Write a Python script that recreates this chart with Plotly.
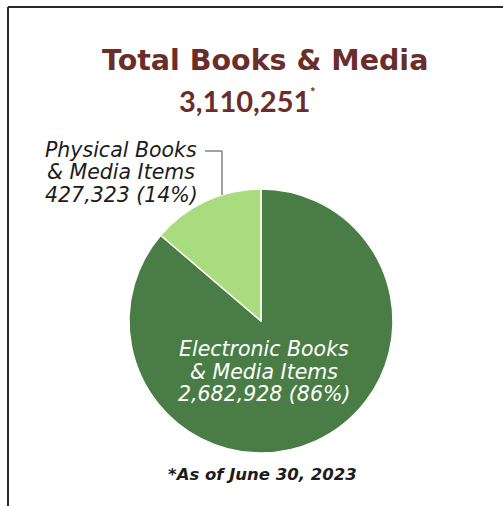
import plotly.graph_objects as go

labels = ["Electronic Books & Media Items", "Physical Books & Media Items"]
values = [2682928, 427323]
percents = [86, 14]
colors = ["#4a7d45", "#a9dc7f"]
total = 3110251
title_text = "Total Books & Media"
footnote = "*As of June 30, 2023"

W, H = 503, 506
cx, cy, r = 261, 321, 132

def px(x):
    return x / W

def py(y):
    return 1 - y / H

fig = go.Figure(go.Pie(
    labels=labels,
    values=values,
    marker=dict(colors=colors, line=dict(color="white", width=1.5)),
    sort=False,
    direction="clockwise",
    rotation=0,
    textinfo="none",
    hoverinfo="skip",
    showlegend=False,
    domain=dict(x=[px(cx - r), px(cx + r)], y=[py(cy + r), py(cy - r)]),
))

brown = "#6b2d29"
sans = "DejaVu Sans"

def ann(x, y, text, size, color, family=sans, xanchor="center"):
    return dict(xref="paper", yref="paper", x=px(x), y=py(y), text=text,
                showarrow=False, xanchor=xanchor, yanchor="middle", align="center",
                font=dict(family=family, size=size, color=color))

annotations = [
    ann(265, 61, f"<b>{title_text}</b>", 28.5, brown),
    ann(177, 101, f"<b>{total:,}</b>", 29, brown, family="Lato", xanchor="left"),
    ann(308, 92, "<b>*</b>", 13, brown, family="Lato", xanchor="left"),
]

phys_lines = ["Physical Books", "&amp; Media Items", f"{values[1]:,} ({percents[1]}%)"]
for i, t in enumerate(phys_lines):
    annotations.append(ann(121, 150 + 22.5 * i, f"<i>{t}</i>", 20.5, "#1c1c1c"))

elec_lines = ["Electronic Books", "&amp; Media Items", f"{values[0]:,} ({percents[0]}%)"]
for i, t in enumerate(elec_lines):
    annotations.append(ann(264, 349 + 22.5 * i, f"<i>{t}</i>", 20.5, "white"))

annotations.append(ann(262, 474, f"<b><i>{footnote}</i></b>", 16.5, "#1c1c1c"))

shapes = [
    # frame
    dict(type="line", xref="paper", yref="paper", x0=px(8), x1=px(8), y0=0, y1=py(7), line=dict(color="#2a2a2a", width=2)),
    dict(type="line", xref="paper", yref="paper", x0=px(8), x1=1, y0=py(7), y1=py(7), line=dict(color="#2a2a2a", width=2)),
    # leader line
    dict(type="line", xref="paper", yref="paper", x0=px(205), x1=px(222), y0=py(151), y1=py(151), line=dict(color="#444444", width=1)),
    dict(type="line", xref="paper", yref="paper", x0=px(222), x1=px(222), y0=py(151), y1=py(195), line=dict(color="#444444", width=1)),
]

fig.update_layout(
    width=W, height=H,
    margin=dict(l=0, r=0, t=0, b=0),
    paper_bgcolor="white",
    plot_bgcolor="white",
    annotations=annotations,
    shapes=shapes,
)

fig.write_html("out.html", config={"displayModeBar": False},
               post_script="document.body.style.margin='0';")
